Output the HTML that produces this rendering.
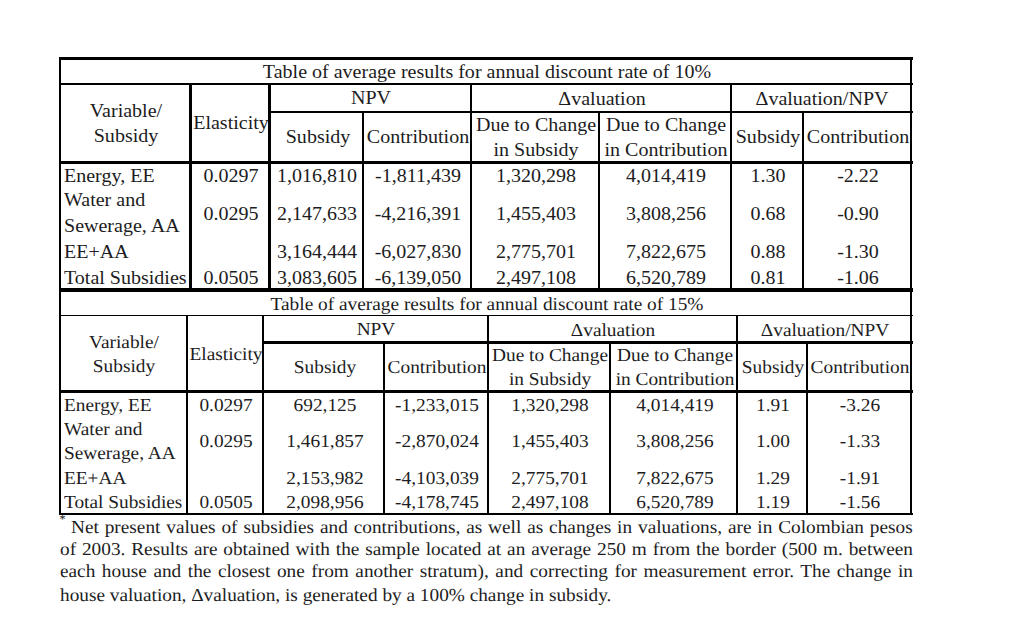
<!DOCTYPE html>
<html lang="en"><head><meta charset="utf-8"><title>Table of average results</title>
<style>
html,body{margin:0;padding:0;background:#fff;}
body{width:1010px;height:633px;position:relative;overflow:hidden;font-family:"Liberation Serif","DejaVu Serif",serif;color:#1c1c22;}
.l{position:absolute;background:#000;}
.t{position:absolute;white-space:nowrap;line-height:20px;height:20px;}
.a{font-size:19.8px;transform-origin:0 17px;transform:scale(1.012,1);}
.a.c{transform-origin:50% 17px;transform:translateX(-50%) scale(1.012,1);}
.b{font-size:18.3px;text-rendering:geometricPrecision;transform-origin:0 16px;transform:scale(1.0574,1);}
.b.c{transform-origin:50% 16px;transform:translateX(-50%) scale(1.0574,1);}
.fn{position:absolute;left:60px;width:853px;text-align:justify;text-align-last:justify;white-space:nowrap;line-height:20px;height:20px;font-size:18.3px;text-rendering:geometricPrecision;transform-origin:0 16px;transform:scaleX(1.0546);}

</style></head><body>
<div class="l" style="left:59px;top:57px;width:854px;height:3px"></div>
<div class="l" style="left:59px;top:83px;width:854px;height:2px"></div>
<div class="l" style="left:268px;top:111px;width:645px;height:2px"></div>
<div class="l" style="left:59px;top:161px;width:854px;height:3px"></div>
<div class="l" style="left:59px;top:288px;width:854px;height:4px"></div>
<div class="l" style="left:189px;top:83px;width:3px;height:207px"></div>
<div class="l" style="left:268px;top:83px;width:3px;height:207px"></div>
<div class="l" style="left:362px;top:111px;width:2px;height:179px"></div>
<div class="l" style="left:470px;top:83px;width:2px;height:207px"></div>
<div class="l" style="left:598px;top:111px;width:2px;height:179px"></div>
<div class="l" style="left:730px;top:83px;width:2px;height:207px"></div>
<div class="l" style="left:802px;top:111px;width:2px;height:179px"></div>
<div class="l" style="left:59px;top:57px;width:2px;height:458px"></div>
<div class="l" style="left:910px;top:57px;width:2px;height:458px"></div>
<div class="l" style="left:59px;top:315px;width:854px;height:1px"></div>
<div class="l" style="left:262px;top:341px;width:651px;height:3px"></div>
<div class="l" style="left:59px;top:390px;width:854px;height:3px"></div>
<div class="l" style="left:59px;top:513px;width:854px;height:2px"></div>
<div class="l" style="left:186px;top:315px;width:2px;height:199px"></div>
<div class="l" style="left:262px;top:315px;width:2px;height:199px"></div>
<div class="l" style="left:383px;top:342px;width:2px;height:172px"></div>
<div class="l" style="left:487px;top:315px;width:2px;height:199px"></div>
<div class="l" style="left:609px;top:342px;width:2px;height:172px"></div>
<div class="l" style="left:736px;top:315px;width:2px;height:199px"></div>
<div class="l" style="left:806px;top:342px;width:2px;height:172px"></div>
<div class="t a c" style="left:486.6px;top:61px">Table of average results for annual discount rate of 10%</div>
<div class="t a c" style="left:126.3px;top:100px">Variable/</div>
<div class="t a c" style="left:126.3px;top:125px">Subsidy</div>
<div class="t a c" style="left:231px;top:112px">Elasticity</div>
<div class="t a c" style="left:371.25px;top:87px">NPV</div>
<div class="t a c" style="left:602px;top:88px">Δvaluation</div>
<div class="t a c" style="left:822.05px;top:88px">Δvaluation/NPV</div>
<div class="t a c" style="left:317.93px;top:126px">Subsidy</div>
<div class="t a c" style="left:418.07px;top:126px">Contribution</div>
<div class="t a c" style="left:536px;top:114px">Due to Change</div>
<div class="t a c" style="left:536px;top:139px">in Subsidy</div>
<div class="t a c" style="left:666px;top:114px">Due to Change</div>
<div class="t a c" style="left:666px;top:139px">in Contribution</div>
<div class="t a c" style="left:768.05px;top:126px">Subsidy</div>
<div class="t a c" style="left:858.1px;top:126px">Contribution</div>
<div class="t a" style="left:64.3px;top:165px">Energy, EE</div>
<div class="t a c" style="left:231px;top:165px">0.0297</div>
<div class="t a c" style="left:317.32px;top:165px">1,016,810</div>
<div class="t a c" style="left:418.07px;top:165px">-1,811,439</div>
<div class="t a c" style="left:536px;top:165px">1,320,298</div>
<div class="t a c" style="left:666px;top:165px">4,014,419</div>
<div class="t a c" style="left:768.05px;top:165px">1.30</div>
<div class="t a c" style="left:858.1px;top:165px">-2.22</div>
<div class="t a" style="left:64.3px;top:189px">Water and</div>
<div class="t a" style="left:64.3px;top:215px">Sewerage, AA</div>
<div class="t a c" style="left:231px;top:203px">0.0295</div>
<div class="t a c" style="left:317.32px;top:203px">2,147,633</div>
<div class="t a c" style="left:418.07px;top:203px">-4,216,391</div>
<div class="t a c" style="left:536px;top:203px">1,455,403</div>
<div class="t a c" style="left:666px;top:203px">3,808,256</div>
<div class="t a c" style="left:768.05px;top:203px">0.68</div>
<div class="t a c" style="left:858.1px;top:203px">-0.90</div>
<div class="t a" style="left:64.3px;top:241px">EE+AA</div>
<div class="t a c" style="left:317.32px;top:241px">3,164,444</div>
<div class="t a c" style="left:418.07px;top:241px">-6,027,830</div>
<div class="t a c" style="left:536px;top:241px">2,775,701</div>
<div class="t a c" style="left:666px;top:241px">7,822,675</div>
<div class="t a c" style="left:768.05px;top:241px">0.88</div>
<div class="t a c" style="left:858.1px;top:241px">-1.30</div>
<div class="t a" style="left:64.3px;top:267px">Total Subsidies</div>
<div class="t a c" style="left:231px;top:267px">0.0505</div>
<div class="t a c" style="left:317.32px;top:267px">3,083,605</div>
<div class="t a c" style="left:418.07px;top:267px">-6,139,050</div>
<div class="t a c" style="left:536px;top:267px">2,497,108</div>
<div class="t a c" style="left:666px;top:267px">6,520,789</div>
<div class="t a c" style="left:768.05px;top:267px">0.81</div>
<div class="t a c" style="left:858.1px;top:267px">-1.06</div>
<div class="t b c" style="left:486.6px;top:294px">Table of average results for annual discount rate of 15%</div>
<div class="t b c" style="left:124.38px;top:332px">Variable/</div>
<div class="t b c" style="left:124.38px;top:356px">Subsidy</div>
<div class="t b c" style="left:226.08px;top:344px">Elasticity</div>
<div class="t b c" style="left:375.55px;top:319px">NPV</div>
<div class="t b c" style="left:613.48px;top:320px">Δvaluation</div>
<div class="t b c" style="left:825.03px;top:320px">Δvaluation/NPV</div>
<div class="t b c" style="left:324.8px;top:357px">Subsidy</div>
<div class="t b c" style="left:437.05px;top:357px">Contribution</div>
<div class="t b c" style="left:550.02px;top:345px">Due to Change</div>
<div class="t b c" style="left:550.02px;top:369px">in Subsidy</div>
<div class="t b c" style="left:674.5px;top:345px">Due to Change</div>
<div class="t b c" style="left:674.5px;top:369px">in Contribution</div>
<div class="t b c" style="left:773.05px;top:357px">Subsidy</div>
<div class="t b c" style="left:860.12px;top:357px">Contribution</div>
<div class="t b" style="left:64.3px;top:395px">Energy, EE</div>
<div class="t b c" style="left:226.08px;top:395px">0.0297</div>
<div class="t b c" style="left:324.6px;top:395px">692,125</div>
<div class="t b c" style="left:437.05px;top:395px">-1,233,015</div>
<div class="t b c" style="left:550.02px;top:395px">1,320,298</div>
<div class="t b c" style="left:674.5px;top:395px">4,014,419</div>
<div class="t b c" style="left:773.05px;top:395px">1.91</div>
<div class="t b c" style="left:860.12px;top:395px">-3.26</div>
<div class="t b" style="left:64.3px;top:419px">Water and</div>
<div class="t b" style="left:64.3px;top:443px">Sewerage, AA</div>
<div class="t b c" style="left:226.08px;top:431px">0.0295</div>
<div class="t b c" style="left:324.6px;top:431px">1,461,857</div>
<div class="t b c" style="left:437.05px;top:431px">-2,870,024</div>
<div class="t b c" style="left:550.02px;top:431px">1,455,403</div>
<div class="t b c" style="left:674.5px;top:431px">3,808,256</div>
<div class="t b c" style="left:773.05px;top:431px">1.00</div>
<div class="t b c" style="left:860.12px;top:431px">-1.33</div>
<div class="t b" style="left:64.3px;top:468px">EE+AA</div>
<div class="t b c" style="left:324.6px;top:468px">2,153,982</div>
<div class="t b c" style="left:437.05px;top:468px">-4,103,039</div>
<div class="t b c" style="left:550.02px;top:468px">2,775,701</div>
<div class="t b c" style="left:674.5px;top:468px">7,822,675</div>
<div class="t b c" style="left:773.05px;top:468px">1.29</div>
<div class="t b c" style="left:860.12px;top:468px">-1.91</div>
<div class="t b" style="left:64.3px;top:492px">Total Subsidies</div>
<div class="t b c" style="left:226.08px;top:492px">0.0505</div>
<div class="t b c" style="left:324.6px;top:492px">2,098,956</div>
<div class="t b c" style="left:437.05px;top:492px">-4,178,745</div>
<div class="t b c" style="left:550.02px;top:492px">2,497,108</div>
<div class="t b c" style="left:674.5px;top:492px">6,520,789</div>
<div class="t b c" style="left:773.05px;top:492px">1.19</div>
<div class="t b c" style="left:860.12px;top:492px">-1.56</div>
<div class="t" style="left:59.6px;top:509px;font-size:12px;color:#111">*</div>
<div class="fn" style="top:517px;left:71.3px;width:798.1px">Net present values of subsidies and contributions, as well as changes in valuations, are in Colombian pesos</div>
<div class="fn" style="top:539px;width:808.8px">of 2003. Results are obtained with the sample located at an average 250 m from the border (500 m. between</div>
<div class="fn" style="top:561px;width:808.8px">each house and the closest one from another stratum), and correcting for measurement error. The change in</div>
<div class="fn" style="top:585px;width:auto;text-align-last:left">house valuation, Δvaluation, is generated by a 100% change in subsidy.</div>

</body></html>
